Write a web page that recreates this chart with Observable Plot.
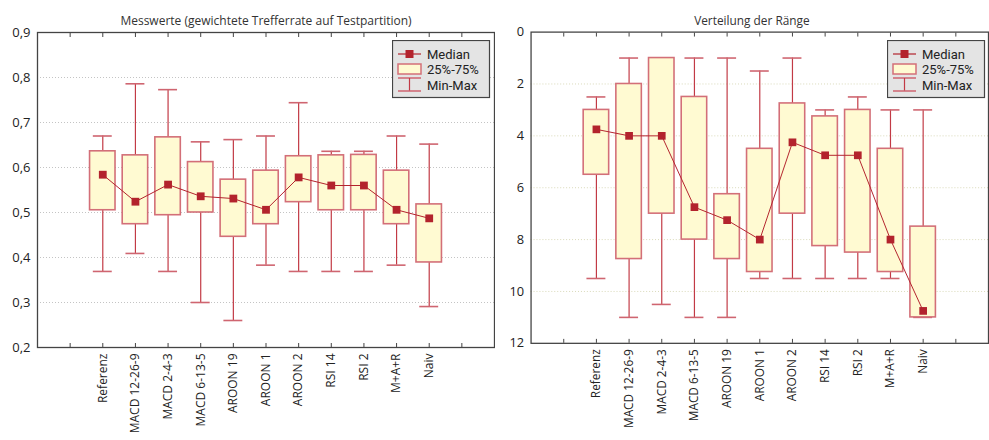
<!DOCTYPE html>
<html><head><meta charset="utf-8">
<script src="https://cdn.jsdelivr.net/npm/d3@7"></script>
<script src="https://cdn.jsdelivr.net/npm/@observablehq/plot@0.6"></script>
<style>
body{margin:0;overflow:hidden;background:#fff;font-family:"Open Sans",sans-serif;width:989px;height:440px;position:relative}
#left{position:absolute;left:0;top:0}
#right{position:absolute;left:495px;top:0}
.legend{position:absolute}
</style></head><body>
<div id="left"></div><div id="right"></div>
<script>
const categories = ["Referenz","MACD 12-26-9","MACD 2-4-3","MACD 6-13-5","AROON 19","AROON 1","AROON 2","RSI 14","RSI 2","M+A+R","Naiv"];

// Left panel: Messwerte
const scoreMin    = [0.369,0.409,0.369,0.300,0.260,0.383,0.369,0.369,0.369,0.383,0.291];
const scoreQ1     = [0.505,0.474,0.494,0.500,0.446,0.474,0.523,0.505,0.505,0.474,0.389];
const scoreMedian = [0.584,0.524,0.562,0.536,0.531,0.506,0.578,0.560,0.560,0.506,0.487];
const scoreQ3     = [0.636,0.627,0.667,0.612,0.573,0.593,0.625,0.627,0.628,0.593,0.518];
const scoreMax    = [0.670,0.786,0.773,0.657,0.662,0.670,0.744,0.636,0.636,0.670,0.652];
const scoreTicks  = [0.2,0.3,0.4,0.5,0.6,0.7,0.8,0.9];

// Right panel: Ränge
const rankMin    = [9.5,11,10.5,11,11,9.5,9.5,9.5,9.5,9.5,11];
const rankQ1     = [5.5,8.75,7,8,8.75,9.25,7,8.25,8.5,9.25,11];
const rankMedian = [3.75,4,4,6.75,7.25,8,4.25,4.75,4.75,8,10.75];
const rankQ3     = [3,2,1,2.5,6.25,4.5,2.75,3.25,3,4.5,7.5];
const rankMax    = [2.5,1,1,1,1,1.5,1,3,2.5,3,3];
const rankTicks  = [0,2,4,6,8,10,12];

const titles = ["Messwerte (gewichtete Trefferrate auf Testpartition)", "Verteilung der Ränge"];
const legendLabels = ["Median","25%-75%","Min-Max"];

const C = {fill:"#fffad2", boxStroke:"#d36f78", whisker:"#c23a45", cap:"#cf6570", med:"#b3232d", frame:"#444"};

function rows(mn,q1,md,q3,mx){
  return categories.map((c,i)=>({cat:c,i,min:mn[i],q1:q1[i],median:md[i],q3:q3[i],max:mx[i]}));
}

function chart({data, ticks, yDomain, reverse, fmt, title, width, marginLeft, marginRight, gridStroke, titleDx}){
  const tickIdx = d3.range(-1,12);
  return Plot.plot({
    width, height:440,
    marginLeft, marginRight, marginTop:32, marginBottom:93,
    style:{fontFamily:'"Open Sans", sans-serif', fontSize:"12px", color:"#222", background:"transparent"},
    x:{type:"linear", domain:[-2,12], label:null},
    y:{domain:yDomain, reverse, label:null},
    marks:[
      Plot.gridY(ticks.slice(1,-1), {stroke:gridStroke, strokeOpacity:1, strokeDasharray:"1,2"}),
      Plot.ruleX(data,{x:"i", y1:"min", y2:"max", stroke:C.whisker, strokeWidth:1.2}),
      Plot.ruleY(data,{y:"min", x1:d=>d.i-0.29, x2:d=>d.i+0.29, stroke:C.cap, strokeWidth:1.6}),
      Plot.ruleY(data,{y:"max", x1:d=>d.i-0.29, x2:d=>d.i+0.29, stroke:C.cap, strokeWidth:1.6}),
      Plot.rect(data,{x1:d=>d.i-0.39, x2:d=>d.i+0.39, y1:"q1", y2:"q3", fill:C.fill, stroke:C.boxStroke, strokeWidth:1.6}),
      Plot.line(data,{x:"i", y:"median", stroke:C.med, strokeWidth:1}),
      Plot.dot(data,{x:"i", y:"median", symbol:"square", r:4.4, fill:C.med, stroke:"none"}),
      Plot.frame({stroke:C.frame, strokeWidth:1.3}),
      Plot.axisX({anchor:"bottom", ticks:tickIdx, tickSize:-4, tickFormat:()=>"", stroke:C.frame, label:null}),
      Plot.axisX({anchor:"top", ticks:tickIdx, tickSize:-4, tickFormat:()=>"", stroke:C.frame, label:null}),
      Plot.axisX({anchor:"bottom", ticks:d3.range(0,11), tickSize:0, tickPadding:6, tickRotate:-90, tickFormat:i=>categories[i], fontSize:12, label:null}),
      Plot.axisY({anchor:"left", ticks, tickSize:0, tickPadding:7, tickFormat:fmt, fontSize:13, label:null}),
      Plot.text([title],{frameAnchor:"top", dy:-16, dx:titleDx, fontSize:12, fill:"#333"})
    ]
  });
}

document.getElementById("left").append(chart({
  data: rows(scoreMin,scoreQ1,scoreMedian,scoreQ3,scoreMax),
  ticks: scoreTicks, yDomain:[0.2,0.9], reverse:false,
  fmt: d=>d.toFixed(1).replace(".",","), title:titles[0],
  width:495, marginLeft:37, marginRight:1, gridStroke:"#c4c4c4", titleDx:0
}));
document.getElementById("right").append(chart({
  data: rows(rankMin,rankQ1,rankMedian,rankQ3,rankMax),
  ticks: rankTicks, yDomain:[0,12], reverse:true,
  fmt: d=>String(d), title:titles[1],
  width:500, marginLeft:36, marginRight:1, gridStroke:"#d8d8b8", titleDx:-8
}));

function legend(left, top){
  const svg = d3.select("body").append("svg").attr("class","legend")
    .style("left",left+"px").style("top",top+"px").attr("width",100).attr("height",60);
  svg.append("rect").attr("x",0.5).attr("y",0.5).attr("width",97).attr("height",57)
    .attr("fill","#e4e4e4").attr("stroke","#444").attr("stroke-width",1.2);
  // median
  svg.append("line").attr("x1",6).attr("x2",29).attr("y1",14).attr("y2",14).attr("stroke",C.med).attr("stroke-width",1.2);
  svg.append("rect").attr("x",13.5).attr("y",10).attr("width",8).attr("height",8).attr("fill",C.med);
  // box
  svg.append("rect").attr("x",6).attr("y",24).attr("width",23).attr("height",10).attr("fill",C.fill).attr("stroke",C.boxStroke).attr("stroke-width",1.5);
  // min-max
  svg.append("line").attr("x1",6).attr("x2",29).attr("y1",38).attr("y2",38).attr("stroke",C.cap).attr("stroke-width",1.5);
  svg.append("line").attr("x1",17.5).attr("x2",17.5).attr("y1",38).attr("y2",51).attr("stroke",C.whisker).attr("stroke-width",1.2);
  svg.append("line").attr("x1",6).attr("x2",29).attr("y1",51).attr("y2",51).attr("stroke",C.cap).attr("stroke-width",1.5);
  legendLabels.forEach((t,k)=>{
    svg.append("text").attr("x",35).attr("y",14+k*15.5).attr("dy","0.35em")
      .attr("font-family","Roboto, sans-serif").attr("font-size",13).attr("fill","#222").text(t);
  });
}
legend(392,40);
legend(887,40);
</script>
</body></html>
